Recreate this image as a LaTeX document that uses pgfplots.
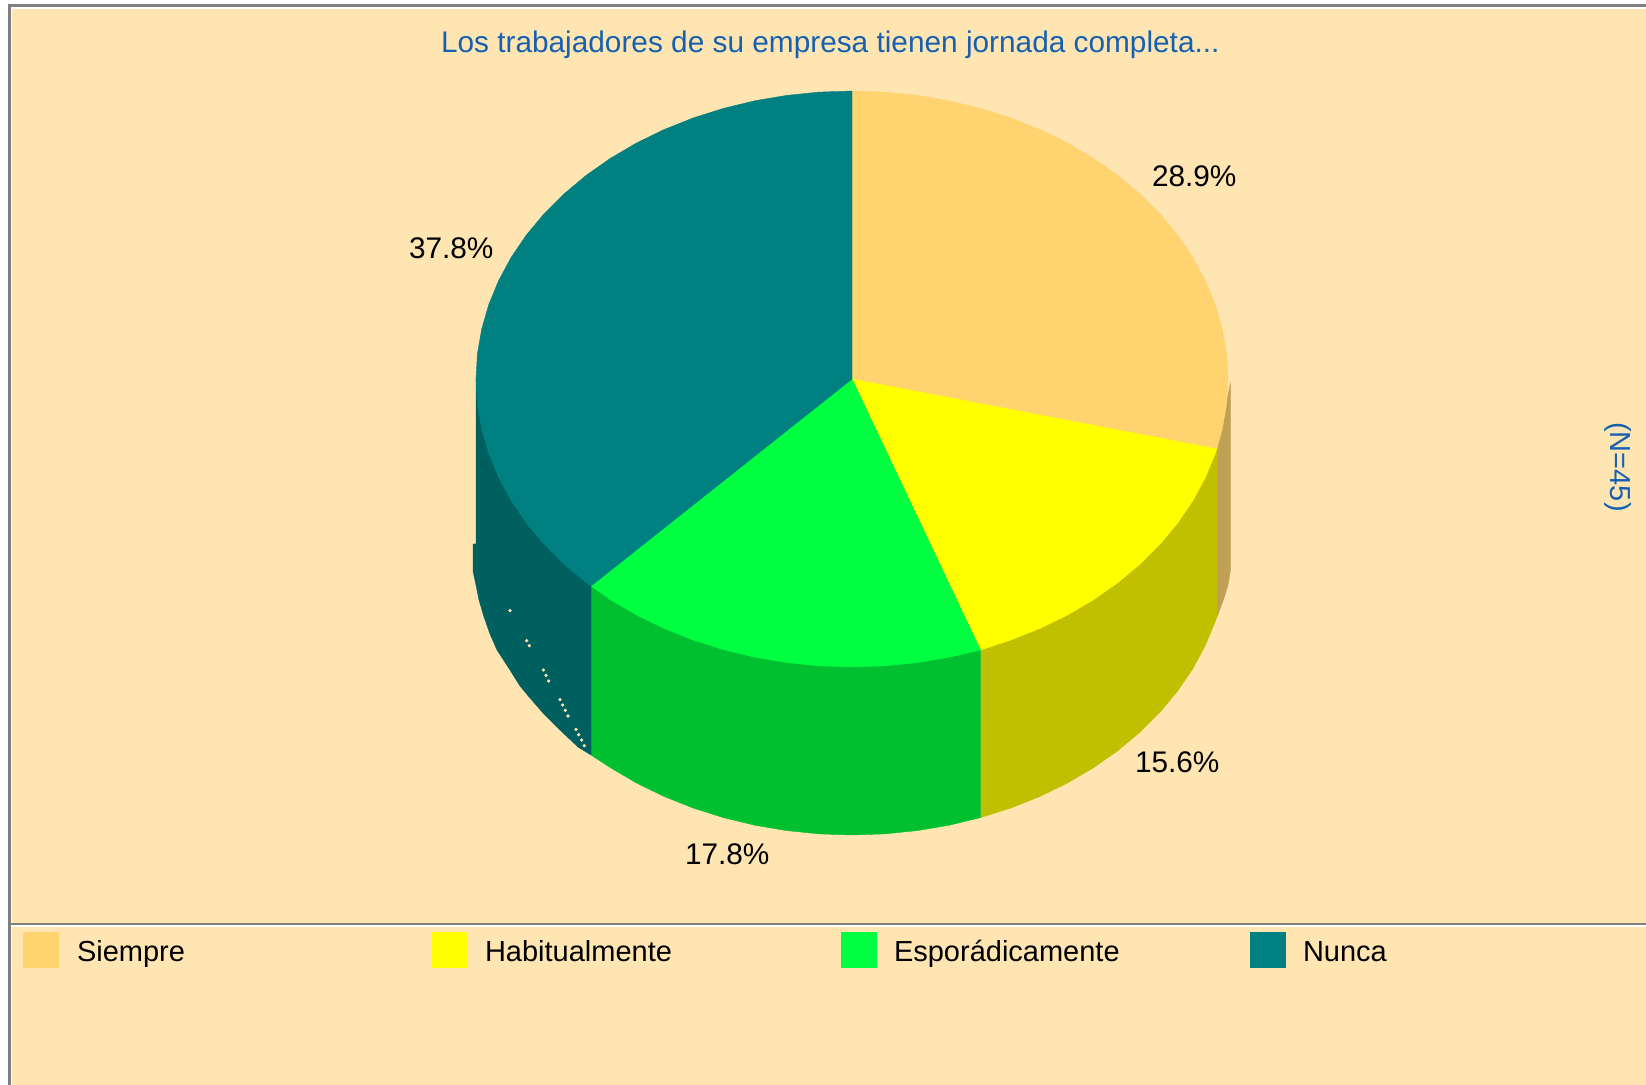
\documentclass[border=0pt]{standalone}
\usepackage{fontspec}
\setmainfont{Liberation Sans}
\usepackage{pgfplots}
\pgfplotsset{compat=1.18}
\definecolor{fondo}{HTML}{FFE5B2}
\definecolor{siempre}{HTML}{FFD370}
\definecolor{siempreD}{HTML}{C0A055}
\definecolor{habitual}{HTML}{FFFF00}
\definecolor{habitualD}{HTML}{C0C000}
\definecolor{esporadico}{HTML}{00FF40}
\definecolor{esporadicoD}{HTML}{00C030}
\definecolor{nunca}{HTML}{008080}
\definecolor{nuncaD}{HTML}{006060}
\definecolor{azul}{HTML}{1560B0}
\definecolor{marco}{HTML}{808080}
\pgfplotsset{
  solido/.style={fill=#1, draw=#1, line width=0.2pt},
  plano/.style={fill=#1, draw=none},
}
\newcommand{\txt}{\fontsize{14.9}{17}\selectfont}
\newcommand{\txtl}{\fontsize{14.5}{17}\selectfont}
\begin{document}
\begin{tikzpicture}
\begin{axis}[
  scale only axis, width=823pt, height=542.5pt,
  xmin=0, xmax=1646, ymin=0, ymax=1085, y dir=reverse,
  hide axis, clip=true,
]
% page, panel and separators (pixel coordinates of the screenshot)
\addplot[plano=white] coordinates {(0,0) (1646,0) (1646,1085) (0,1085)} --cycle;
\addplot[plano=fondo] coordinates {(8,5) (1646,5) (1646,1085) (8,1085)} --cycle;
\addplot[plano=marco] coordinates {(8,4.5) (1646,4.5) (1646,7.5) (8,7.5)} --cycle;
\addplot[plano=marco] coordinates {(8,4.5) (10.5,4.5) (10.5,1085) (8,1085)} --cycle;
\addplot[plano=white] coordinates {(10.5,7.5) (1646,7.5) (1646,9) (10.5,9)} --cycle;
\addplot[plano=white] coordinates {(10.5,7.5) (11.7,7.5) (11.7,1085) (10.5,1085)} --cycle;
\addplot[plano=marco] coordinates {(8,923) (1646,923) (1646,925) (8,925)} --cycle;
\addplot[plano=white] coordinates {(10.5,925) (1646,925) (1646,927) (10.5,927)} --cycle;

% side walls
\addplot[solido=siempreD] coordinates {(1217,449) (1230.5,383) (1230.5,570) (1228,585) (1224,598) (1217,617)} --cycle;
\addplot[solido=habitualD] coordinates {(1216.8,449) (1216.8,616.9) (1215.2,621.5) (1205.3,645.5) (1192.8,668.7) (1177.6,691) (1160,712.2) (1140,732.1) (1117.9,750.6) (1093.7,767.6) (1067.7,782.9) (1040,796.4) (1010.9,808) (980.6,817.6) (980.5,650)} --cycle;
\addplot[solido=esporadicoD] coordinates {(980.5,650) (980.5,817.6) (949.3,825.2) (917.3,830.6) (884.8,833.9) (852,835) (819.2,833.9) (786.7,830.6) (754.7,825.2) (723.4,817.6) (693.1,808) (664,796.4) (636.3,782.9) (610.3,767.6) (591,755) (591,586)} --cycle;
\addplot[solido=nuncaD] coordinates {(591,586) (591,755) (578,747) (560,730) (543,713) (530,698) (520,686) (510,670) (497,650) (490,634) (484,617) (479,600) (476,585) (473,571) (473,544) (476,544) (476,379)} --cycle;

% stray pixels on the dark wall
\addplot[only marks, mark=*, color=fondo, mark size=0.6pt] coordinates {
  (510,610.7) (526.7,640.7) (529.3,645.7) (543.3,670) (546,675.3) (548.7,681)
  (560,699.7) (562.7,705) (565.3,710.3) (568,716) (576,729.3) (578.7,734.7)
  (581.7,740) (584.3,745.7)};

% top face: 28.9, 15.6, 17.8, 37.8 percent clockwise from 12 o'clock
\addplot[solido=siempre] coordinates {(852,379) (852,91) (884.8,92.1) (917.3,95.4) (949.3,100.8) (980.6,108.4) (1010.9,118) (1040,129.6) (1067.7,143.1) (1093.7,158.4) (1117.9,175.4) (1140,193.9) (1160,213.8) (1177.6,235) (1192.8,257.3) (1205.3,280.5) (1215.2,304.5) (1222.3,329) (1226.6,353.9) (1228,379) (1226.6,404.1) (1222.3,429) (1216.8,448.9)} --cycle;
\addplot[solido=habitual] coordinates {(852,379) (1216.8,448.9) (1215.2,453.5) (1205.3,477.5) (1192.8,500.7) (1177.6,523) (1160,544.2) (1140,564.1) (1117.9,582.6) (1093.7,599.6) (1067.7,614.9) (1040,628.4) (1010.9,640) (980.5,650)} --cycle;
\addplot[solido=esporadico] coordinates {(852,379) (980.5,650) (949.3,657.2) (917.3,662.6) (884.8,665.9) (852,667) (819.2,665.9) (786.7,662.6) (754.7,657.2) (723.4,649.6) (693.1,640) (664,628.4) (636.3,614.9) (610.3,599.6) (591,586)} --cycle;
\addplot[solido=nunca] coordinates {(852,379) (591,586) (586.1,582.6) (564,564.1) (544,544.2) (526.4,523) (511.2,500.7) (498.7,477.5) (488.8,453.5) (481.7,429) (477.4,404.1) (476,379) (477.4,353.9) (481.7,329) (488.8,304.5) (498.7,280.5) (511.2,257.3) (526.4,235) (544,213.8) (564,193.9) (586.1,175.4) (610.3,158.4) (636.3,143.1) (664,129.6) (693.1,118) (723.4,108.4) (754.7,100.8) (786.7,95.4) (819.2,92.1) (852,91)} --cycle;

% legend swatches
\addplot[plano=siempre] coordinates {(23,932) (59,932) (59,968) (23,968)} --cycle;
\addplot[plano=habitual] coordinates {(432,932) (468,932) (468,968) (432,968)} --cycle;
\addplot[plano=esporadico] coordinates {(841,932) (877,932) (877,968) (841,968)} --cycle;
\addplot[plano=nunca] coordinates {(1250,932) (1286,932) (1286,968) (1250,968)} --cycle;

\tikzset{etq/.style={anchor=base west, inner sep=0pt, outer sep=0pt, font=\txt},
         ley/.style={anchor=base west, inner sep=0pt, outer sep=0pt, font=\txtl}}
\node[etq, text=azul] at (axis cs:441,52.5) {Los trabajadores de su empresa tienen jornada completa...};
\node[anchor=center, inner sep=0pt, font=\txtl, text=azul, rotate=-90] at (axis cs:1618,467) {(N=45)};
\node[etq] at (axis cs:1152,187) {28.9\%};
\node[etq] at (axis cs:409,259) {37.8\%};
\node[etq] at (axis cs:1135,773) {15.6\%};
\node[etq] at (axis cs:685,865) {17.8\%};
\node[ley] at (axis cs:77,961) {Siempre};
\node[ley] at (axis cs:485,961) {Habitualmente};
\node[ley] at (axis cs:894,961) {Esporádicamente};
\node[ley] at (axis cs:1303,961) {Nunca};
\end{axis}
\end{tikzpicture}
\end{document}
